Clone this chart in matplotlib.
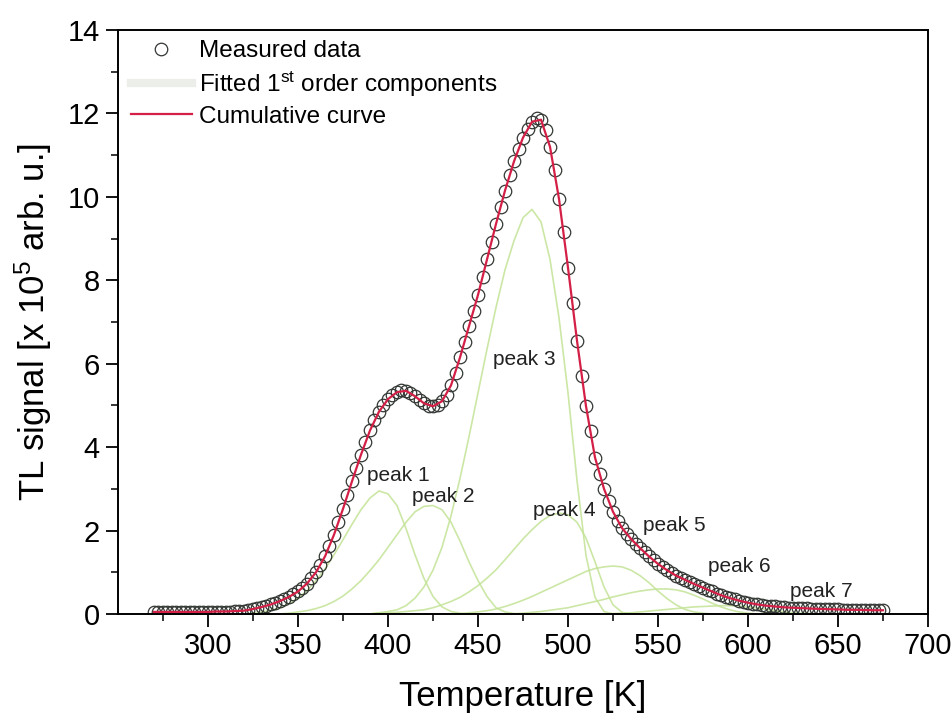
import numpy as np
import matplotlib
matplotlib.use("Agg")
import matplotlib.pyplot as plt
from matplotlib.lines import Line2D

plt.rcParams["font.family"] = ["Liberation Sans", "DejaVu Sans"]
plt.rcParams["mathtext.fontset"] = "custom"
plt.rcParams["mathtext.rm"] = "Liberation Sans"
plt.rcParams["mathtext.it"] = "Liberation Sans:italic"

# measured TL glow curve, 270 K .. 675 K every 2.5 K (x 10^5 arb. u.)
measured_start, measured_step = 270, 2.5
measured_tl = [
    0.05, 0.05, 0.05, 0.05, 0.05, 0.05, 0.05, 0.05, 0.05, 0.05,
    0.05, 0.05, 0.05, 0.06, 0.06, 0.06, 0.06, 0.06, 0.07, 0.07,
    0.08, 0.10, 0.12, 0.14, 0.17, 0.20, 0.23, 0.27, 0.31, 0.36,
    0.41, 0.47, 0.54, 0.63, 0.73, 0.86, 1.00, 1.17, 1.38, 1.62,
    1.90, 2.20, 2.52, 2.85, 3.18, 3.50, 3.82, 4.12, 4.40, 4.64,
    4.85, 5.02, 5.15, 5.25, 5.32, 5.36, 5.35, 5.30, 5.22, 5.13,
    5.05, 4.99, 4.98, 5.02, 5.10, 5.26, 5.48, 5.78, 6.15, 6.52,
    6.90, 7.27, 7.65, 8.07, 8.50, 8.92, 9.35, 9.76, 10.15, 10.52,
    10.85, 11.15, 11.42, 11.63, 11.80, 11.90, 11.85, 11.60, 11.20, 10.65,
    9.95, 9.15, 8.30, 7.45, 6.55, 5.70, 4.98, 4.38, 3.75, 3.35,
    3.00, 2.70, 2.45, 2.24, 2.06, 1.92, 1.80, 1.69, 1.58, 1.48,
    1.38, 1.29, 1.20, 1.12, 1.05, 0.98, 0.92, 0.87, 0.82, 0.77,
    0.72, 0.67, 0.63, 0.58, 0.54, 0.49, 0.45, 0.41, 0.38, 0.35,
    0.32, 0.29, 0.27, 0.25, 0.23, 0.21, 0.20, 0.19, 0.18, 0.17,
    0.16, 0.155, 0.15, 0.145, 0.14, 0.135, 0.13, 0.125, 0.12, 0.12,
    0.115, 0.11, 0.11, 0.105, 0.10, 0.10, 0.10, 0.10, 0.095, 0.095,
    0.09, 0.09, 0.09,
]

# cumulative fitted curve, 270 K .. 675 K every 5 K
cumulative_start, cumulative_step = 270, 5
cumulative_tl = [
    0.05, 0.05, 0.05, 0.05, 0.05,
    0.05, 0.05, 0.06, 0.06, 0.07,
    0.08, 0.12, 0.17, 0.23, 0.31,
    0.41, 0.54, 0.73, 1.00, 1.38,
    1.90, 2.52, 3.18, 3.82, 4.40,
    4.85, 5.15, 5.32, 5.35, 5.22,
    5.05, 4.98, 5.10, 5.48, 6.15,
    6.90, 7.65, 8.50, 9.35, 10.15,
    10.85, 11.42, 11.80, 11.85, 11.20,
    9.95, 8.30, 6.55, 4.98, 3.75,
    3.00, 2.45, 2.06, 1.80, 1.58,
    1.38, 1.20, 1.05, 0.92, 0.82,
    0.72, 0.63, 0.54, 0.45, 0.38,
    0.32, 0.27, 0.23, 0.20, 0.18,
    0.16, 0.15, 0.14, 0.13, 0.12,
    0.115, 0.11, 0.10, 0.10, 0.095,
    0.09, 0.09,
]

# fitted first order components, every 5 K from their start temperature
peak_names = ["peak 1", "peak 2", "peak 3", "peak 4", "peak 5", "peak 6", "peak 7"]
peak_starts = [320, 340, 390, 390, 440, 470, 520]
peak_values = [
    [0.0, 0.02, 0.05, 0.09, 0.15, 0.25, 0.38, 0.56, 0.80, 1.08, 1.42, 1.78, 2.15,
     2.50, 2.78, 2.95, 2.88, 2.60, 2.05, 1.42, 0.85, 0.42, 0.17, 0.06, 0.02, 0.0],
    [0.0, 0.02, 0.05, 0.08, 0.13, 0.20, 0.30, 0.43, 0.60, 0.80, 1.04, 1.30, 1.60, 1.90,
     2.20, 2.45, 2.58, 2.60, 2.50, 2.20, 1.75, 1.25, 0.80, 0.42, 0.15, 0.05, 0.01, 0.0],
    [0.0, 0.03, 0.06, 0.10, 0.20, 0.38, 0.65, 1.05, 1.60, 2.35, 3.25, 4.25, 5.30, 6.35,
     7.35, 8.25, 8.95, 9.50, 9.70, 9.40, 8.50, 7.10, 5.30, 3.20, 1.40, 0.40, 0.06, 0.0],
    [0.0, 0.02, 0.03, 0.04, 0.06, 0.08, 0.10, 0.15, 0.22, 0.30, 0.40, 0.53, 0.68, 0.86,
     1.06, 1.30, 1.55, 1.80, 2.02, 2.22, 2.36, 2.42, 2.38, 2.20, 1.82, 1.25, 0.65, 0.22,
     0.04, 0.0],
    [0.0, 0.03, 0.05, 0.08, 0.12, 0.18, 0.25, 0.33, 0.42, 0.52, 0.62, 0.72, 0.82, 0.92,
     1.02, 1.09, 1.13, 1.15, 1.13, 1.05, 0.92, 0.75, 0.55, 0.37, 0.22, 0.11, 0.05, 0.02,
     0.0],
    [0.0, 0.02, 0.04, 0.06, 0.09, 0.12, 0.15, 0.20, 0.25, 0.30, 0.35, 0.41, 0.46, 0.51,
     0.55, 0.58, 0.60, 0.60, 0.58, 0.53, 0.45, 0.36, 0.26, 0.17, 0.10, 0.05, 0.02, 0.0],
    [0.0, 0.01, 0.02, 0.03, 0.05, 0.07, 0.09, 0.11, 0.13, 0.15, 0.17, 0.18, 0.19, 0.20,
     0.20, 0.19, 0.17, 0.14, 0.11, 0.08, 0.05, 0.03, 0.02, 0.01, 0.0],
]
# where the peak names are written (temperature, signal)
label_temps = [406, 430.5, 476, 498, 559, 595, 640.5]
label_signal = [3.33, 2.81, 6.1, 2.49, 2.13, 1.15, 0.55]

GREEN = "#c3e396"
RED = "#d41f46"
CIRCLE = "#333733"


def temps(start, step, values):
    return start + step * np.arange(len(values))


fig = plt.figure(figsize=(9.53, 7.21), dpi=100)
ax = fig.add_axes([0.1238, 0.1484, 0.85, 0.81])

for start, vals in zip(peak_starts, peak_values):
    ax.plot(temps(start, 5, vals), vals, color=GREEN, lw=1.2, alpha=0.85, zorder=1)

ax.plot(temps(measured_start, measured_step, measured_tl), measured_tl,
        ls="none", marker="o", ms=9, mfc="none", mec=CIRCLE, mew=0.9, zorder=2)
ax.plot(temps(cumulative_start, cumulative_step, cumulative_tl), cumulative_tl,
        color=RED, lw=1.6, zorder=3)

for name, t, s in zip(peak_names, label_temps, label_signal):
    ax.text(t, s, name, fontsize=15, ha="center", va="center", color="#222222")

ax.set_xlim(250, 700)
ax.set_ylim(0, 14)
ax.set_xticks(np.arange(300, 701, 50))
ax.set_xticks(np.arange(275, 700, 25), minor=True)
ax.set_yticks(np.arange(0, 15, 2))
ax.set_yticks(np.arange(1, 14, 2), minor=True)
ax.tick_params(which="major", direction="out", length=9, width=1.3, labelsize=21, pad=4)
ax.tick_params(which="minor", direction="out", length=5, width=1.1)
for sp in ax.spines.values():
    sp.set_linewidth(1.4)

ax.set_xlabel("Temperature [K]", fontsize=25, labelpad=14)
ax.set_ylabel(r"TL signal [x 10$^{5}$ arb. u.]", fontsize=25, labelpad=10)

handles = [
    Line2D([], [], ls="none", marker="o", ms=9, mfc="none", mec=CIRCLE, mew=0.9),
    Line2D([], [], color="#eceeea", lw=6),
    Line2D([], [], color=RED, lw=1.6),
]
labels = ["Measured data", r"Fitted 1$^{\rm st}$ order components", "Cumulative curve"]
ax.legend(handles, labels, loc="upper left", bbox_to_anchor=(-0.005, 1.012), frameon=False,
          fontsize=17.5, handlelength=2.5, handletextpad=0.3, labelspacing=0.3,
          borderaxespad=0.3)

fig.savefig("out.png", dpi=100)
